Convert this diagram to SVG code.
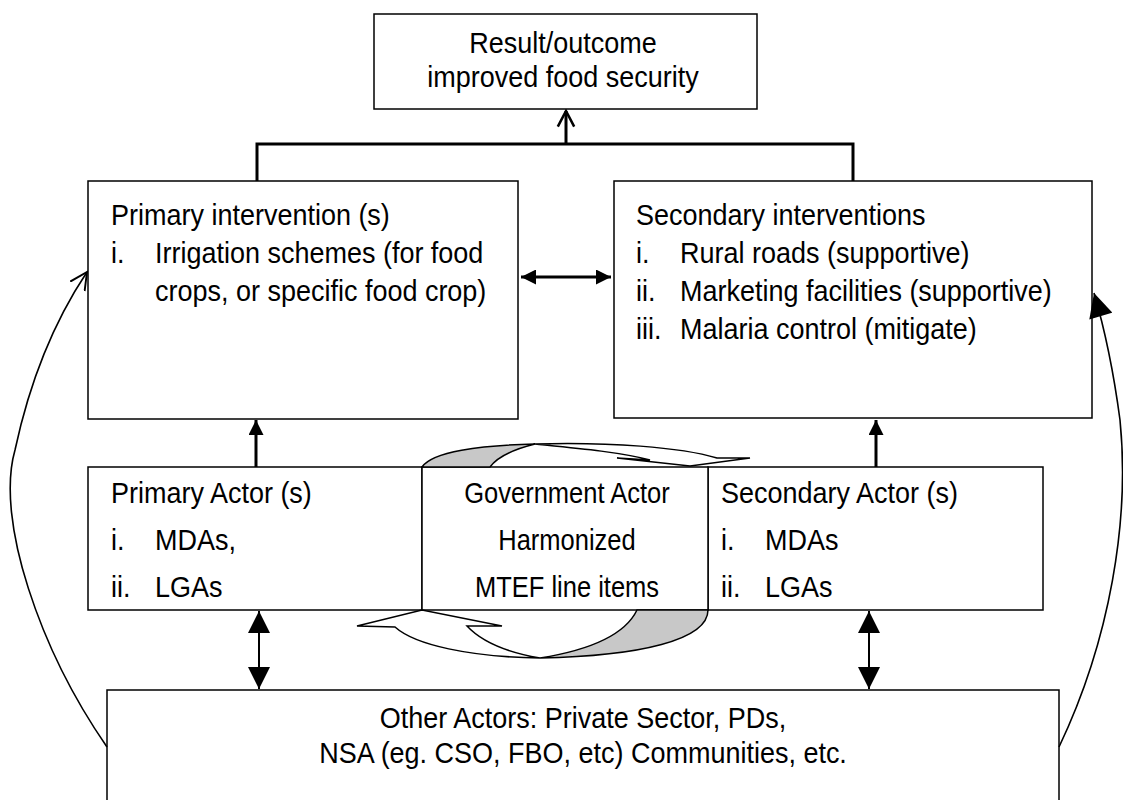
<svg xmlns="http://www.w3.org/2000/svg" width="1123" height="800" viewBox="0 0 1123 800">
<defs>
<style>
.box{fill:#fff;stroke:#000;stroke-width:1.5}
.t{font-family:"Liberation Sans",Arial,sans-serif;font-size:30px;fill:#000}
.m{text-anchor:middle}
.thick{stroke:#000;stroke-width:3;fill:none}
.thin{stroke:#000;stroke-width:2;fill:none}
.curve{stroke:#000;stroke-width:1.6;fill:none}
.rib{fill:#fff;stroke:#000;stroke-width:1.5;stroke-linejoin:miter}
.gray{fill:#c8c8c8;stroke:#000;stroke-width:1.5}
</style>
<marker id="tri" viewBox="0 0 10 10" refX="10" refY="5" markerWidth="5" markerHeight="5" orient="auto-start-reverse" markerUnits="strokeWidth"><path d="M0,0 L10,5 L0,10 Z" fill="#000"/></marker>
<marker id="triBig" viewBox="0 0 10 10" refX="10" refY="5" markerWidth="11" markerHeight="12" orient="auto-start-reverse" markerUnits="strokeWidth"><path d="M0,0 L10,5 L0,10 Z" fill="#000"/></marker>
<marker id="chev" viewBox="0 0 10 10" refX="9" refY="5" markerWidth="6.5" markerHeight="7" orient="auto" markerUnits="strokeWidth"><path d="M1,0.8 L9,5 L1,9.2" fill="none" stroke="#000" stroke-width="1.3"/></marker>
<marker id="open" viewBox="0 0 10 10" refX="9" refY="5" markerWidth="12" markerHeight="12" orient="auto" markerUnits="strokeWidth"><path d="M0,0.5 L9,5 L0,9.5" fill="none" stroke="#000" stroke-width="1"/></marker>
<marker id="headR" viewBox="0 0 20 20" refX="20" refY="10" markerWidth="25" markerHeight="24" orient="auto" markerUnits="userSpaceOnUse"><path d="M0,0 L20,10 L0,20 Z" fill="#000"/></marker>
</defs>

<g id="outcome">
<rect class="box" x="374" y="14" width="383" height="95"/>
<text class="t m" transform="translate(563 53) scale(0.9 1)">Result/outcome</text>
<text class="t m" transform="translate(563 87) scale(0.9 1)">improved food security</text>
</g>

<g id="primary-intervention">
<rect class="box" x="88" y="181" width="430" height="238"/>
<text class="t" transform="translate(111 225) scale(0.9 1)">Primary intervention (s)</text>
<text class="t" transform="translate(111 263) scale(0.9 1)">i.</text>
<text class="t" transform="translate(155 263) scale(0.9 1)">Irrigation schemes (for food</text>
<text class="t" transform="translate(155 301) scale(0.9 1)">crops, or specific food crop)</text>
</g>

<g id="secondary-intervention">
<rect class="box" x="614" y="181" width="478" height="237"/>
<text class="t" transform="translate(636 225) scale(0.9 1)">Secondary interventions</text>
<text class="t" transform="translate(636 263) scale(0.9 1)">i.</text>
<text class="t" transform="translate(680 263) scale(0.9 1)">Rural roads (supportive)</text>
<text class="t" transform="translate(636 301) scale(0.9 1)">ii.</text>
<text class="t" transform="translate(680 301) scale(0.9 1)">Marketing facilities (supportive)</text>
<text class="t" transform="translate(636 339) scale(0.9 1)">iii.</text>
<text class="t" transform="translate(680 339) scale(0.9 1)">Malaria control (mitigate)</text>
</g>

<g id="primary-actor">
<rect class="box" x="88" y="467" width="334" height="143"/>
<text class="t" transform="translate(111 503) scale(0.9 1)">Primary Actor (s)</text>
<text class="t" transform="translate(111 550) scale(0.9 1)">i.</text>
<text class="t" transform="translate(155 550) scale(0.9 1)">MDAs,</text>
<text class="t" transform="translate(111 597) scale(0.9 1)">ii.</text>
<text class="t" transform="translate(155 597) scale(0.9 1)">LGAs</text>
</g>

<g id="secondary-actor">
<rect class="box" x="708" y="467" width="335" height="143"/>
<text class="t" transform="translate(721 503) scale(0.9 1)">Secondary Actor (s)</text>
<text class="t" transform="translate(721 550) scale(0.9 1)">i.</text>
<text class="t" transform="translate(765 550) scale(0.9 1)">MDAs</text>
<text class="t" transform="translate(721 597) scale(0.9 1)">ii.</text>
<text class="t" transform="translate(765 597) scale(0.9 1)">LGAs</text>
</g>

<g id="government-actor">
<rect class="box" x="422" y="467" width="286" height="143"/>
<path class="gray" d="M422,467 C432,452 480,445 535,444 C515,449 498,456 490,467 Z"/>
<path class="rib" d="M535,444 C610,442 680,447 717,458 L750,458 L690,466 L617,458 L650,460 C620,452 575,448 535,444 Z"/>
<path class="gray" d="M708,610 C708,640 640,656 540,658 C590,650 625,635 637,610 Z"/>
<path class="rib" d="M540,658 C470,657 415,645 395,627 L357,626 L422,610 L502,626 L467,626 C480,640 505,652 540,658 Z"/>
<text class="t m" transform="translate(567 503) scale(0.85 1)">Government Actor</text>
<text class="t m" transform="translate(567 550) scale(0.85 1)">Harmonized</text>
<text class="t m" transform="translate(567 597) scale(0.85 1)">MTEF line items</text>
</g>

<g id="other-actors">
<rect class="box" x="107" y="690" width="952" height="130"/>
<text class="t m" transform="translate(583 728) scale(0.9 1)">Other Actors: Private Sector, PDs,</text>
<text class="t m" transform="translate(583 763) scale(0.9 1)">NSA (eg. CSO, FBO, etc) Communities, etc.</text>
</g>

<g id="connectors">
<polyline class="thick" points="257,181 257,144 853,144 853,181"/>
<line class="thick" x1="566" y1="144" x2="566" y2="111" marker-end="url(#chev)"/>
<line class="thick" x1="521" y1="277" x2="611" y2="277" marker-start="url(#tri)" marker-end="url(#tri)"/>
<line class="thick" x1="256" y1="467" x2="256" y2="420" marker-end="url(#tri)"/>
<line class="thick" x1="876" y1="467" x2="876" y2="420" marker-end="url(#tri)"/>
<line class="thin" x1="259" y1="611" x2="259" y2="689" marker-start="url(#triBig)" marker-end="url(#triBig)"/>
<line class="thin" x1="869" y1="611" x2="869" y2="689" marker-start="url(#triBig)" marker-end="url(#triBig)"/>
<path class="curve" d="M107,747 C40,650 -5,520 15,450 C30,380 55,320 87,272" marker-end="url(#open)"/>
<path class="curve" d="M1059,747 C1110,640 1130,520 1120,420 C1112,360 1102,320 1094,293" marker-end="url(#headR)"/>
</g>
</svg>
